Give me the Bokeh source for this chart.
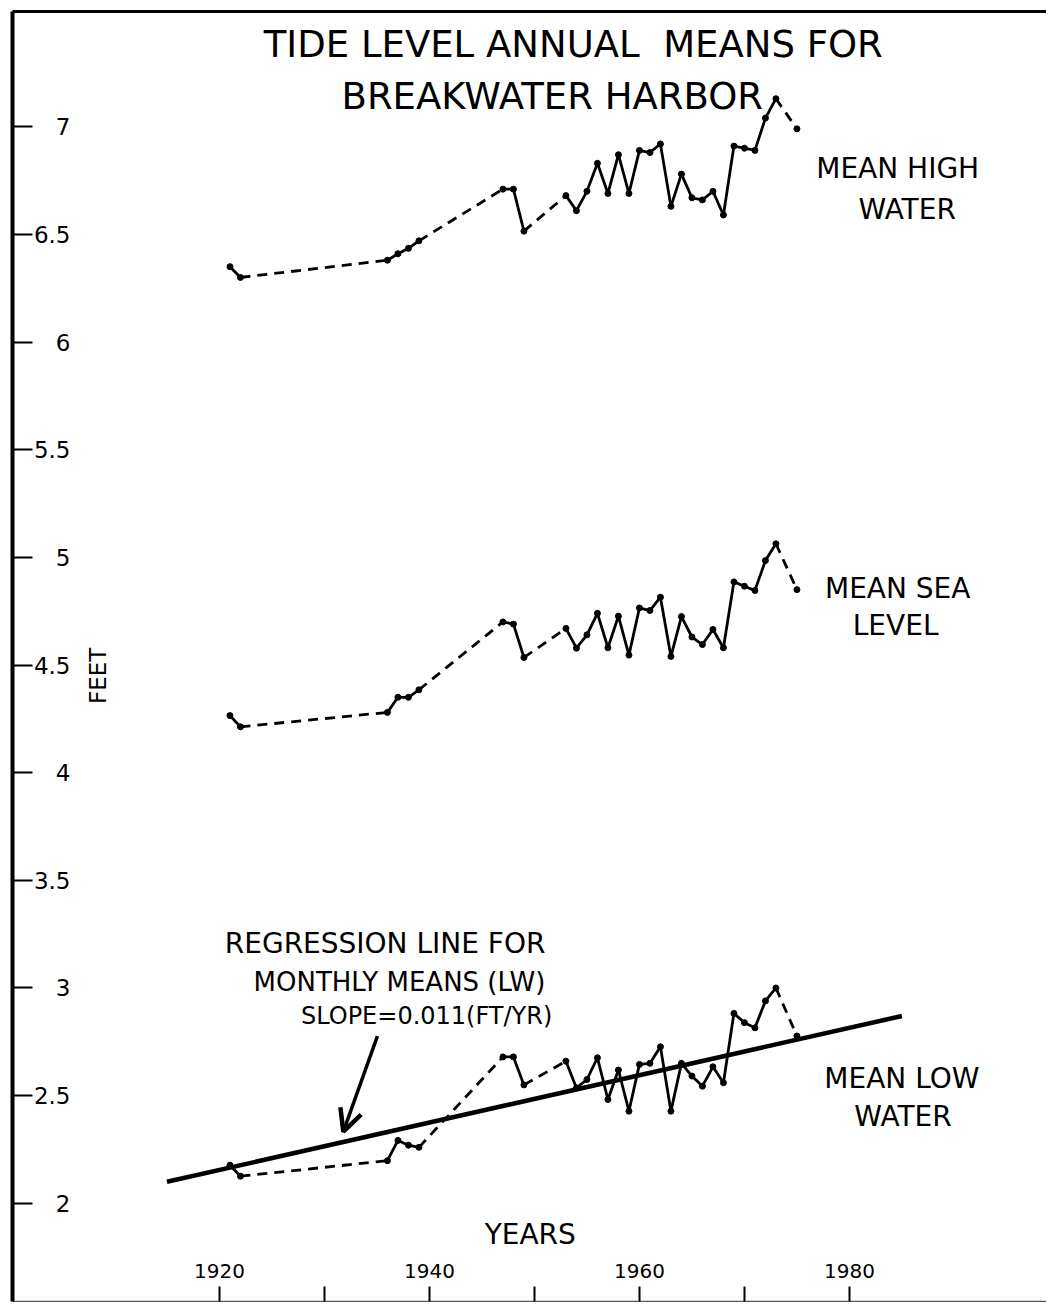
from bokeh.plotting import figure
from bokeh.models import (Range1d, LinearAxis, FixedTicker, NumeralTickFormatter,
                          Label, Arrow, OpenHead)
from bokeh.embed import file_html
from bokeh.resources import INLINE
import math

# ---------------- data ----------------
years = [1921, 1922, 1936, 1937, 1938, 1939, 1947, 1948, 1949, 1953, 1954, 1955,
         1956, 1957, 1958, 1959, 1960, 1961, 1962, 1963, 1964, 1965, 1966, 1967,
         1968, 1969, 1970, 1971, 1972, 1973, 1975]

mean_high_water = [6.35, 6.30, 6.38, 6.41, 6.435, 6.47, 6.71, 6.71, 6.515, 6.68, 6.61, 6.70,
                   6.83, 6.69, 6.87, 6.69, 6.89, 6.88, 6.92, 6.63, 6.78, 6.67, 6.66, 6.70,
                   6.59, 6.91, 6.90, 6.89, 7.04, 7.13, 6.99]

mean_sea_level = [4.265, 4.213, 4.28, 4.35, 4.35, 4.385, 4.70, 4.69, 4.535, 4.67, 4.578, 4.64,
                  4.74, 4.58, 4.727, 4.546, 4.765, 4.753, 4.815, 4.54, 4.725, 4.63, 4.595, 4.665,
                  4.58, 4.886, 4.866, 4.846, 4.985, 5.063, 4.85]

mean_low_water = [2.177, 2.126, 2.198, 2.292, 2.27, 2.26, 2.68, 2.68, 2.55, 2.66, 2.536, 2.575,
                  2.676, 2.482, 2.619, 2.428, 2.645, 2.65, 2.727, 2.428, 2.65, 2.591, 2.544, 2.634,
                  2.56, 2.882, 2.839, 2.815, 2.94, 3.00, 2.777]

# years after which the record has a gap (segment drawn dashed)
gap_after = [1922, 1939, 1949, 1973]

# regression line for monthly means (LW), slope 0.011 ft/yr
reg_years = [1915, 1985]
reg_values = [2.10, 2.87]

x_ticks = [1920, 1930, 1940, 1950, 1960, 1970, 1980]
x_tick_labels = {1920: "1920", 1930: "", 1940: "1940", 1950: "", 1960: "1960", 1970: "", 1980: "1980"}
y_ticks = [2, 2.5, 3, 3.5, 4, 4.5, 5, 5.5, 6, 6.5, 7]

FONT = "DejaVu Sans"

p = figure(width=1046, height=1302, output_backend="svg", toolbar_location=None,
           x_range=Range1d(1900.29, 1998.77), y_range=Range1d(1.544, 7.535),
           x_axis_location=None, y_axis_location=None,
           min_border_left=12, min_border_top=11, min_border_right=0, min_border_bottom=1)
p.outline_line_color = None
p.background_fill_color = "white"
p.border_fill_color = "white"
for g in p.grid:
    g.visible = False

# axes
yaxis = LinearAxis(ticker=FixedTicker(ticks=y_ticks), formatter=NumeralTickFormatter(format="0.[0]"),
                   major_tick_in=20, major_tick_out=0, minor_tick_line_color=None,
                   major_tick_line_width=2, major_tick_line_color="black",
                   axis_line_width=4, axis_line_color="black",
                   major_label_standoff=-58,
                   major_label_text_font=FONT, major_label_text_font_size="23px",
                   major_label_text_color="black")
p.add_layout(yaxis, "left")

xaxis = LinearAxis(ticker=FixedTicker(ticks=x_ticks), major_label_overrides=x_tick_labels,
                   major_tick_in=15, major_tick_out=0, minor_tick_line_color=None,
                   major_tick_line_width=2, major_tick_line_color="black",
                   axis_line_width=1.5, axis_line_color="#555555",
                   major_label_standoff=-38,
                   major_label_text_font=FONT, major_label_text_font_size="20px",
                   major_label_text_color="black")
p.add_layout(xaxis, "below")

topaxis = LinearAxis(ticker=FixedTicker(ticks=[]), major_tick_in=0, major_tick_out=0,
                     minor_tick_line_color=None, major_label_standoff=0,
                     axis_line_width=3, axis_line_color="black")
p.add_layout(topaxis, "above")

# series
def draw_series(vals):
    sx0, sy0, sx1, sy1 = [], [], [], []
    dx0, dy0, dx1, dy1 = [], [], [], []
    for i in range(len(years) - 1):
        if years[i] in gap_after:
            dx0.append(years[i]); dy0.append(vals[i]); dx1.append(years[i + 1]); dy1.append(vals[i + 1])
        else:
            sx0.append(years[i]); sy0.append(vals[i]); sx1.append(years[i + 1]); sy1.append(vals[i + 1])
    p.segment(x0=sx0, y0=sy0, x1=sx1, y1=sy1, line_color="black", line_width=2.8, line_cap="round")
    p.segment(x0=dx0, y0=dy0, x1=dx1, y1=dy1, line_color="black", line_width=2.8, line_dash="10 7")
    p.scatter(x=years, y=vals, size=6, marker="circle", fill_color="black", line_color="black")

draw_series(mean_high_water)
draw_series(mean_sea_level)
draw_series(mean_low_water)

p.line(x=reg_years, y=reg_values, line_color="black", line_width=4.5)

# texts
def lab(x, y, t, size, align="center", angle=0.0):
    p.add_layout(Label(x=x, y=y, text=t, text_font=FONT, text_font_size=size,
                       text_align=align, text_baseline="middle", text_color="black",
                       angle=angle))

lab(1953.7, 7.38, "TIDE LEVEL ANNUAL\u00a0 MEANS FOR", "37px")
lab(1951.7, 7.138, "BREAKWATER HARBOR", "37px")
lab(1984.6, 6.808, "MEAN HIGH", "28px")
lab(1985.5, 6.617, "WATER", "28px")
lab(1984.6, 4.855, "MEAN SEA", "28px")
lab(1984.4, 4.683, "LEVEL", "28px")
lab(1985.0, 2.580, "MEAN LOW", "28px")
lab(1985.1, 2.403, "WATER", "28px")
lab(1951.05, 3.208, "REGRESSION LINE FOR", "28px", align="right")
lab(1951.05, 3.026, "MONTHLY MEANS (LW)", "26px", align="right")
lab(1951.7, 2.868, "SLOPE=0.011(FT/YR)", "24px", align="right")
lab(1949.6, 1.853, "YEARS", "28px")
lab(1908.4, 4.45, "FEET", "23px", angle=math.pi / 2)

p.add_layout(Arrow(end=OpenHead(size=22, line_width=4.5, line_color="black"),
                   x_start=1935.05, y_start=2.777, x_end=1931.8, y_end=2.333,
                   line_width=3.5, line_color="black"))

open("out.html", "w").write(file_html(p, INLINE))
